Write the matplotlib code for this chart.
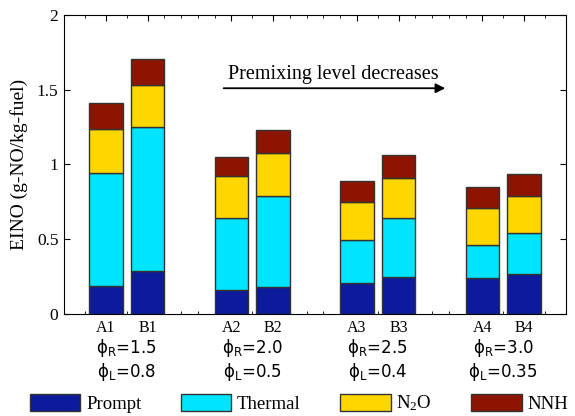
import numpy as np
import matplotlib
matplotlib.use("Agg")
import matplotlib.pyplot as plt
from matplotlib.patches import Patch

# bar positions and labels
positions = [1, 2, 4, 5, 7, 8, 10, 11]
case_labels = ["A1", "B1", "A2", "B2", "A3", "B3", "A4", "B4"]
phi_r = ["1.5", "2.0", "2.5", "3.0"]
phi_l = ["0.8", "0.5", "0.4", "0.35"]

# stacked contributions (g-NO/kg-fuel)
prompt = [0.19, 0.29, 0.16, 0.18, 0.21, 0.25, 0.24, 0.27]
thermal = [0.755, 0.96, 0.48, 0.61, 0.285, 0.39, 0.22, 0.275]
n2o = [0.295, 0.28, 0.28, 0.285, 0.255, 0.27, 0.25, 0.245]
nnh = [0.17, 0.175, 0.13, 0.155, 0.14, 0.154, 0.14, 0.144]

series = [prompt, thermal, n2o, nnh]
names = ["Prompt", "Thermal", r"N$_2$O", "NNH"]
colors = ["#0c1a9c", "#00e4ff", "#ffd700", "#8c1400"]

serif = "Liberation Serif"
plt.rcParams["mathtext.fontset"] = "custom"
plt.rcParams["mathtext.rm"] = serif
plt.rcParams["mathtext.it"] = serif + ":italic"

fig = plt.figure(figsize=(5.75, 4.16), dpi=100)
ax = fig.add_axes([0.1113, 0.2452, 0.8730, 0.7188])

bottom = np.zeros(len(positions))
for vals, c in zip(series, colors):
    ax.bar(positions, vals, width=0.8, bottom=bottom, color=c,
           edgecolor="#333333", linewidth=1.0, zorder=2)
    bottom += np.array(vals)

ax.set_xlim(0, 12)
ax.set_ylim(0, 2)
ax.set_yticks([0, 0.5, 1, 1.5, 2])
ax.set_yticklabels(["0", "0.5", "1", "1.5", "2"], fontfamily=serif,
                   fontsize=12.5)
ax.set_xticks(positions)
ax.set_xticklabels(case_labels, fontfamily=serif, fontsize=11.5)
ax.set_xticks([0.5, 1.5, 2.4, 2.8, 3.2, 3.6, 4.5, 5.4, 5.8, 6.2, 6.6, 7.5,
               8.4, 8.8, 9.2, 9.6, 10.5, 11.5], minor=True)
ax.tick_params(axis="both", which="major", direction="in", length=4,
               top=True, right=True, pad=4)
ax.tick_params(axis="x", which="minor", direction="in", length=2,
               top=True, bottom=True)
for s in ax.spines.values():
    s.set_linewidth(0.8)

ax.set_ylabel("EINO (g-NO/kg-fuel)", fontfamily=serif, fontsize=14, labelpad=6)

# phi annotations under each pair
trans = ax.get_xaxis_transform()
for i in range(4):
    xc = (positions[2 * i] + positions[2 * i + 1]) / 2
    ax.text(xc, -0.115, r"$\mathrm{\phi}_{\mathrm{R}}$=" + phi_r[i],
            transform=trans, ha="center", va="center", fontsize=12,
            fontfamily="DejaVu Sans", math_fontfamily="dejavusans")
    ax.text(xc, -0.195, r"$\mathrm{\phi}_{\mathrm{L}}$=" + phi_l[i],
            transform=trans, ha="center", va="center", fontsize=12,
            fontfamily="DejaVu Sans", math_fontfamily="dejavusans")

ax.annotate("", xy=(9.18, 1.51), xytext=(3.75, 1.51),
            arrowprops=dict(arrowstyle="-|>", color="black", lw=1.3,
                            mutation_scale=14))
ax.text(6.45, 1.605, "Premixing level decreases", ha="center", va="center",
        fontfamily=serif, fontsize=14.5)

handles = [Patch(facecolor=c, edgecolor="#333333", label=n)
           for c, n in zip(colors, names)]
fig.legend(handles=handles, loc="lower center", bbox_to_anchor=(0.52, -0.034),
           ncol=4, frameon=False, prop={"family": serif, "size": 13.5},
           handlelength=2.7, handleheight=1.0, handletextpad=0.3,
           columnspacing=2.1)

fig.savefig("out.png", dpi=100)
